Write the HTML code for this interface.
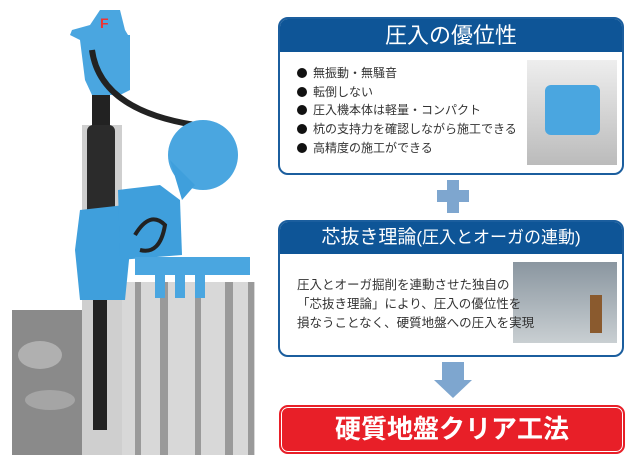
<!DOCTYPE html>
<html><head><meta charset="utf-8"><style>
body{margin:0;width:640px;height:465px;background:#fff;position:relative;overflow:hidden;font-family:"Liberation Sans","Noto Sans CJK JP",sans-serif}
.box{position:absolute;left:278px;width:346px;border:2px solid #1b5e9e;border-radius:10px;background:#fff;overflow:hidden;box-sizing:border-box}
.hd{background:#0e5597;color:#fff;text-align:center}
.t{position:absolute;font-size:12px;color:#333;white-space:nowrap}
.b{display:inline-block;width:10px;height:10px;border-radius:50%;background:#111;margin-right:6px;vertical-align:-1px}
</style></head><body>
<svg width="270" height="465" style="position:absolute;left:0;top:0">
<rect x="12" y="310" width="110" height="145" fill="#8a8a8a"/>
<ellipse cx="40" cy="355" rx="22" ry="14" fill="#b0b0b0"/><ellipse cx="50" cy="400" rx="25" ry="10" fill="#a5a5a5"/>
<rect x="82" y="125" width="40" height="330" fill="#cfcfcf"/>
<rect x="122" y="282" width="133" height="173" fill="#d8d8d8"/>
<g fill="#9a9a9a"><rect x="135" y="282" width="6" height="173"/><rect x="160" y="282" width="8" height="173"/><rect x="195" y="282" width="6" height="173"/><rect x="225" y="282" width="8" height="173"/><rect x="248" y="282" width="6" height="173"/></g>
<rect x="93" y="280" width="14" height="150" fill="#222"/>
<rect x="92" y="95" width="18" height="35" fill="#222"/>
<rect x="87" y="125" width="28" height="90" rx="6" fill="#2b2b2b"/>
<path d="M90 25 L100 10 L120 10 L125 30 L128 35 L130 35 L130 90 L120 95 L92 95 L85 80 L80 40 L70 35 L72 30 Z" fill="#4aa6e0"/>
<text x="100" y="28" font-size="14" font-weight="bold" fill="#e33">F</text>
<path d="M92 50 Q100 110 195 125" stroke="#222" stroke-width="6" fill="none"/>
<circle cx="203" cy="155" r="35" fill="#4aa6e0"/>
<path d="M80 210 L125 205 L130 250 L125 300 L80 300 L75 250 Z" fill="#3f9fdc"/>
<path d="M118 190 L160 185 L180 200 L182 255 L120 260 Z" fill="#3f9fdc"/>
<path d="M170 160 L195 185 L182 200 Z" fill="#3f9fdc"/>
<path d="M135 235 Q150 210 165 225 Q160 255 140 250" stroke="#222" stroke-width="4" fill="none"/>
<rect x="135" y="257" width="115" height="18" fill="#4aa6e0"/>
<g fill="#4aa6e0"><rect x="155" y="270" width="10" height="28"/><rect x="175" y="270" width="10" height="28"/><rect x="195" y="270" width="10" height="28"/></g>
</svg>

<div class="box" style="top:17px;height:158px">
<div class="hd" style="height:33px;line-height:33px;font-size:22px">圧入の優位性</div>
</div>
<div style="position:absolute;left:527px;top:60px;width:90px;height:105px;background:linear-gradient(#eee,#bbb)"></div>
<div style="position:absolute;left:545px;top:85px;width:55px;height:50px;background:#4aa6e0;border-radius:6px"></div>
<div class="t" style="left:297px;top:64px"><span class="b"></span>無振動・無騒音</div>
<div class="t" style="left:297px;top:83px"><span class="b"></span>転倒しない</div>
<div class="t" style="left:297px;top:101px"><span class="b"></span>圧入機本体は軽量・コンパクト</div>
<div class="t" style="left:297px;top:120px"><span class="b"></span>杭の支持力を確認しながら施工できる</div>
<div class="t" style="left:297px;top:139px"><span class="b"></span>高精度の施工ができる</div>

<div style="position:absolute;left:447px;top:180px;width:12px;height:33px;background:#7ea6cf"></div>
<div style="position:absolute;left:437px;top:190px;width:32px;height:12px;background:#7ea6cf"></div>

<div class="box" style="top:220px;height:137px">
<div class="hd" style="height:32px;line-height:32px;font-size:19px">芯抜き理論<span style="font-size:17px">(圧入とオーガの連動)</span></div>
</div>
<div style="position:absolute;left:513px;top:262px;width:104px;height:81px;background:linear-gradient(#8a96a0,#c9cfd2)"></div>
<div style="position:absolute;left:590px;top:295px;width:12px;height:38px;background:#8a5a2e"></div>
<div class="t" style="left:297px;top:274px;font-size:12.5px">圧入とオーガ掘削を連動させた独自の</div>
<div class="t" style="left:297px;top:293px;font-size:12.5px">「芯抜き理論」により、圧入の優位性を</div>
<div class="t" style="left:297px;top:312px;font-size:12.5px">損なうことなく、硬質地盤への圧入を実現</div>

<div style="position:absolute;left:442px;top:362px;width:22px;height:18px;background:#7ea6cf"></div>
<div style="position:absolute;left:434px;top:380px;width:0;height:0;border-left:19px solid transparent;border-right:19px solid transparent;border-top:18px solid #7ea6cf"></div>

<div style="position:absolute;left:279px;top:405px;width:346px;height:49px;background:#e81f28;border-radius:9px;box-sizing:border-box;border:2px solid #e81f28;box-shadow:inset 0 0 0 1px #fff"></div>
<div style="position:absolute;left:279px;top:405px;width:346px;height:49px;line-height:49px;text-align:center;color:#fff;font-size:26px;font-weight:bold">硬質地盤クリア工法</div>
</body></html>
